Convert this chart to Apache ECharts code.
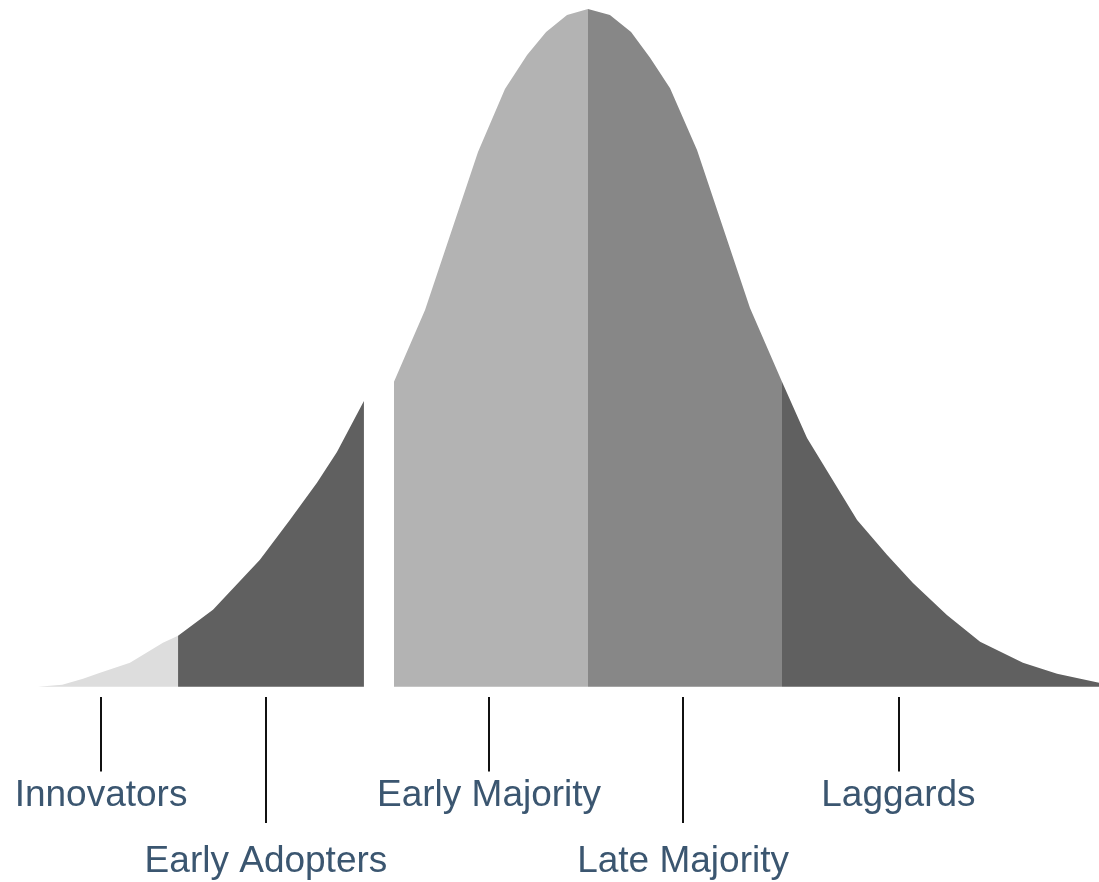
<!DOCTYPE html>
<html>
<head>
<meta charset="utf-8">
<script src="https://cdn.jsdelivr.net/npm/echarts@6/dist/echarts.min.js"></script>
<style>
  html, body { margin: 0; padding: 0; background: #fff; }
  #main { width: 1099px; height: 882px; }
</style>
</head>
<body>
<div id="main"></div>
<script>
    // x in standard deviations from the mean, y relative to the peak (=100)
    var innovators = [[-2.835, 0], [-2.71, 0.3], [-2.603, 1.18], [-2.515, 2.06], [-2.361, 3.54], [-2.191, 6.49], [-2.113, 7.52]];
    var earlyAdopters = [[-2.113, 7.52], [-1.933, 11.36], [-1.691, 18.73], [-1.536, 24.63], [-1.397, 30.09], [-1.294, 34.66], [-1.155, 42.18]];
    var earlyMajority = [[-1.0, 45.0], [-0.840, 55.6], [-0.567, 78.9], [-0.428, 88.2], [-0.314, 93.2], [-0.216, 96.6], [-0.108, 99.1], [0, 100]];
    var lateMajority = [[0, 100], [0.113, 99.1], [0.222, 96.6], [0.320, 92.8], [0.423, 88.3], [0.562, 79.2], [0.835, 55.9], [1.0, 45.0]];
    var laggards = [[1.0, 45.0], [1.129, 36.7], [1.387, 24.6], [1.541, 19.5], [1.675, 15.3], [1.85, 10.6], [2.021, 6.64], [2.242, 3.54], [2.418, 1.92], [2.634, 0.59]];

    // labels under the curve
    var labelNames = ['Innovators', 'Early Adopters', 'Early Majority', 'Late Majority', 'Laggards'];
    var labelX = [-2.51, -1.66, -0.51, 0.49, 1.60];
    var labelRow = [0, 1, 0, 1, 0];   // 0 = upper row, 1 = lower row
    var rowY = [-16.1, -25.8];
    var tickTop = -1.5;
    var tickEnd = [-12.5, -20.1];

    var segments = [
        {name: 'Innovators', data: innovators, color: '#dddddd'},
        {name: 'Early Adopters', data: earlyAdopters, color: '#606060'},
        {name: 'Early Majority', data: earlyMajority, color: '#b3b3b3'},
        {name: 'Late Majority', data: lateMajority, color: '#878787'},
        {name: 'Laggards', data: laggards, color: '#606060'}
    ];

    var myChart = echarts.init(document.getElementById('main'));

    var series = segments.map(function (s) {
        return {
            name: s.name,
            type: 'line',
            data: s.data,
            symbol: 'none',
            silent: true,
            lineStyle: {width: 0},
            areaStyle: {color: s.color, opacity: 1}
        };
    });

    var labelData = [];
    var tickLines = [];
    for (var i = 0; i < labelNames.length; i++) {
        labelData.push({name: labelNames[i], value: [labelX[i], rowY[labelRow[i]]]});
        tickLines.push([{coord: [labelX[i], tickTop]}, {coord: [labelX[i], tickEnd[labelRow[i]]]}]);
    }

    series.push({
        name: 'labels',
        type: 'scatter',
        data: labelData,
        symbolSize: 1,
        silent: true,
        itemStyle: {color: '#ffffff', opacity: 1},
        label: {
            show: true,
            position: 'inside',
            formatter: '{b}',
            color: '#3b5670',
            textBorderWidth: 0,
            opacity: 1,
            fontSize: 37,
            fontFamily: '"Liberation Sans", Arial, sans-serif'
        },
        markLine: {
            silent: true,
            symbol: ['none', 'none'],
            label: {show: false},
            lineStyle: {color: '#111', width: 2, type: 'solid', opacity: 1},
            data: tickLines
        }
    });

    var option = {
        animation: false,
        grid: {left: 38, right: 0, top: 9, height: 867.6},
        xAxis: {
            type: 'value',
            min: -2.835,
            max: 2.634,
            show: false
        },
        yAxis: {
            type: 'value',
            min: -28,
            max: 100,
            show: false
        },
        series: series
    };

    myChart.setOption(option);
    window.addEventListener("resize", function () {
        myChart.resize();
    });
</script>
</body>
</html>
